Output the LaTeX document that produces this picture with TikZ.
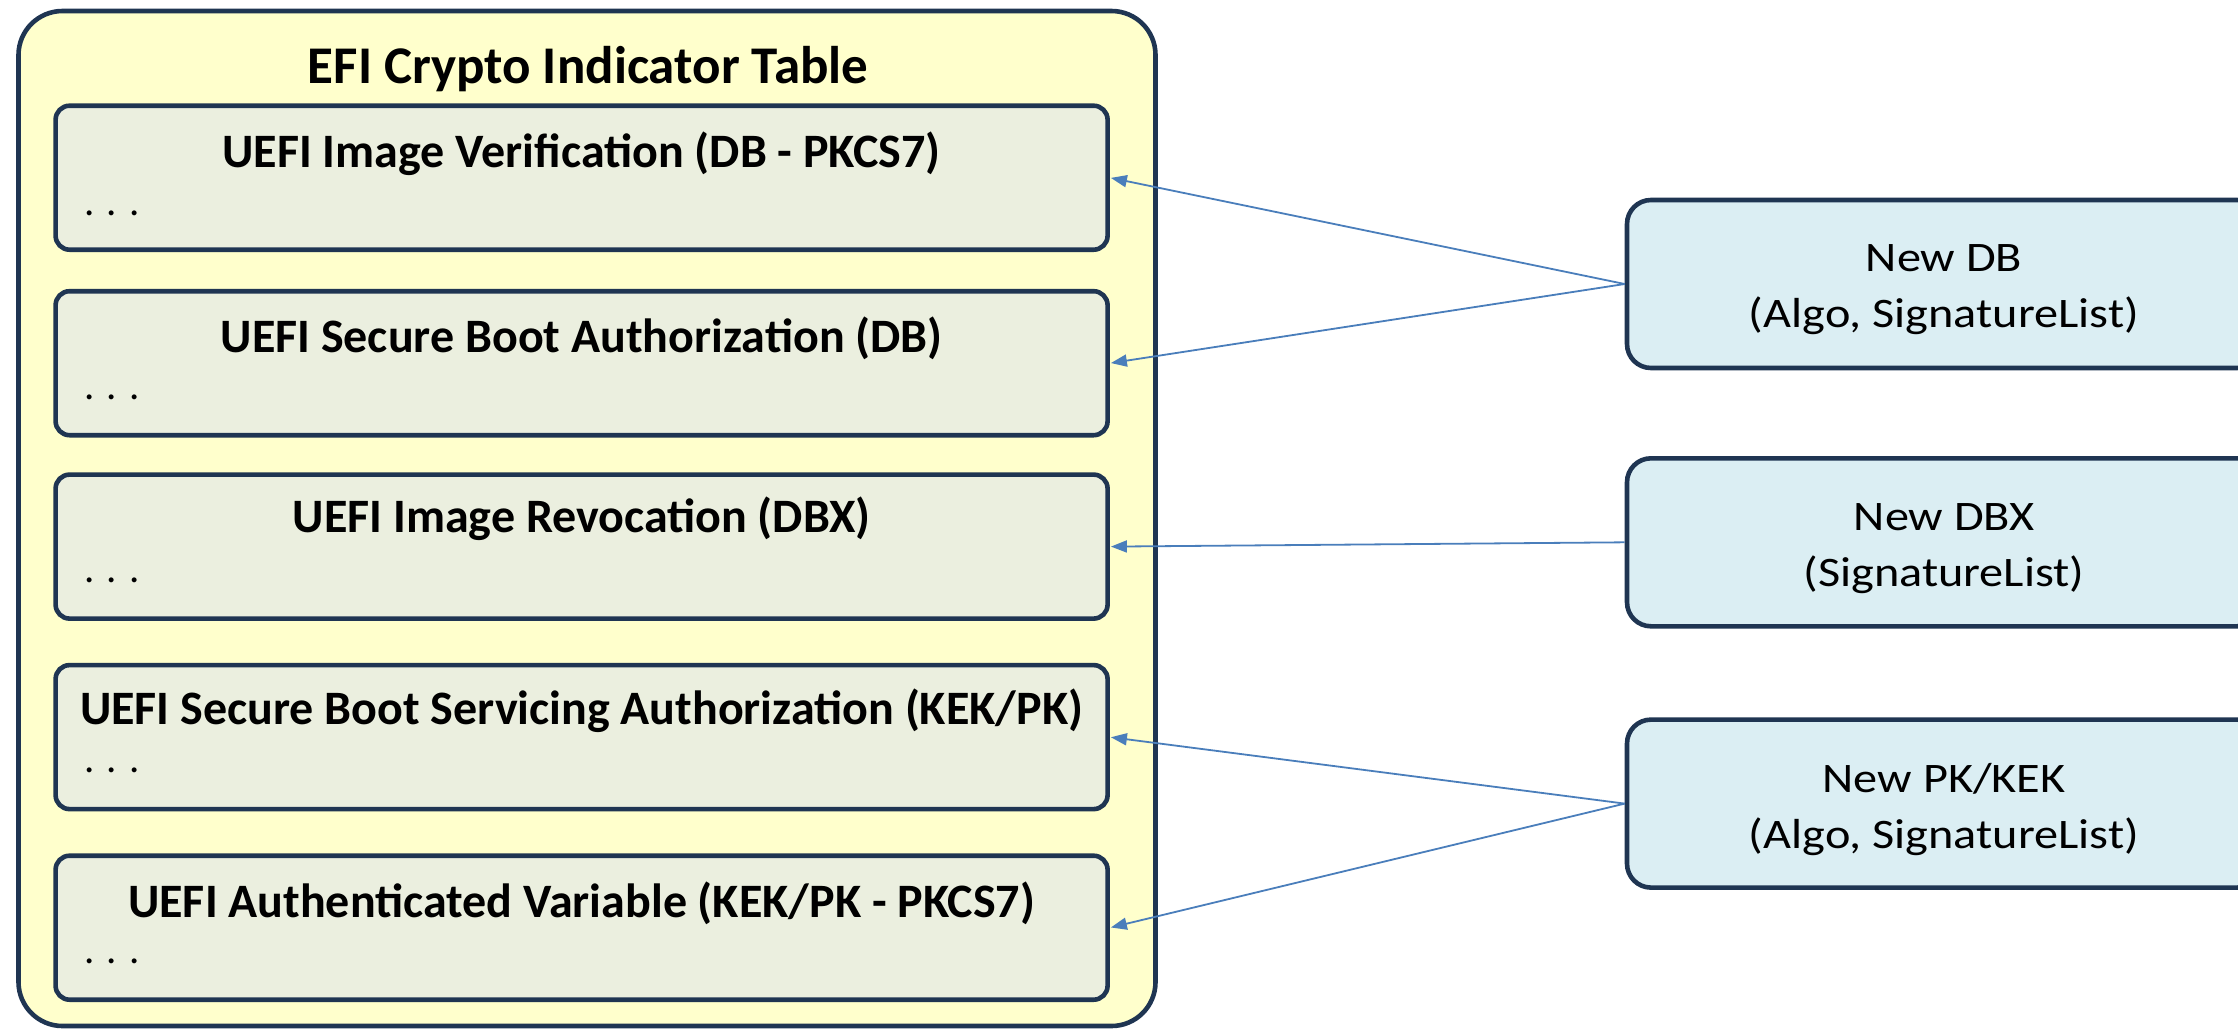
\documentclass[tikz,border=0pt]{standalone}
\usepackage{fontspec}
\setmainfont{Carlito}
\usetikzlibrary{arrows.meta}
\definecolor{navy}{HTML}{1F3552}
\definecolor{tablefill}{HTML}{FFFFCC}
\definecolor{entryfill}{HTML}{EBEFDF}
\definecolor{newfill}{HTML}{DBEEF3}
\definecolor{link}{HTML}{4A7EBB}
\newcommand{\widetext}[1]{\scalebox{1.15}[1]{#1}}
\tikzset{
  table/.style={draw=navy, line width=4.6pt, fill=tablefill, rounded corners=44pt, inner sep=0pt},
  entry/.style={draw=navy, line width=4.6pt, fill=entryfill, rounded corners=14pt, inner sep=0pt,
    minimum width=1052pt, minimum height=144pt},
  newbox/.style={draw=navy, line width=4.6pt, fill=newfill, rounded corners=24pt, inner sep=0pt,
    minimum width=634pt, minimum height=168pt},
  newtext/.style={align=center, inner sep=0pt, font=\fontsize{42}{56}\selectfont},
  entrytitle/.style={font=\fontsize{48}{56}\selectfont\bfseries, inner sep=0pt},
  dots/.style={font=\fontsize{41}{44}\selectfont, inner sep=0pt, anchor=west},
  feed/.style={draw=link, line width=1.8pt, -{Triangle[length=16pt,width=12pt]}, shorten >=1pt}
}
\begin{document}
\begin{tikzpicture}[x=1pt,y=-1pt]
\useasboundingbox (0,0) rectangle (2238,1029);
% outer table
\node[table, minimum width=1137pt, minimum height=1015pt] (tbl) at (587,518.5) {};
\node[font=\fontsize{53}{60}\selectfont\bfseries, inner sep=0pt] (ttl) at (588,69) {EFI Crypto Indicator Table};
% table entries
\node[entry] (e1) at (581.6,177.7) {};
\node[entry] (e2) at (581.6,363.2) {};
\node[entry] (e3) at (581.6,546.6) {};
\node[entry] (e4) at (581.6,737.1) {};
\node[entry] (e5) at (581.6,927.7) {};
\node[entrytitle] (t1) at (581.6,154) {UEFI Image Verification (DB - PKCS7)};
\node[entrytitle] (t2) at (581.6,338) {UEFI Secure Boot Authorization (DB)};
\node[entrytitle] (t3) at (581.6,519) {UEFI Image Revocation (DBX)};
\node[entrytitle] (t4) at (581.6,710.5) {UEFI Secure Boot Servicing Authorization (KEK/PK)};
\node[entrytitle] (t5) at (581.6,903) {UEFI Authenticated Variable (KEK/PK - PKCS7)};
\node[dots] (d1) at (84,213) {. . .};
\node[dots] (d2) at (84,397) {. . .};
\node[dots] (d3) at (84,580) {. . .};
\node[dots] (d4) at (84,770) {. . .};
\node[dots] (d5) at (84,961) {. . .};
% new key sets
\node[newbox] (ndb) at (1944,284) {};
\node[newbox] (ndbx) at (1944,542.3) {};
\node[newbox] (npk) at (1944,803.6) {};
\node[newtext] (ndbt) at ([yshift=-6pt]ndb.center) {\widetext{New DB}\\\widetext{(Algo, SignatureList)}};
\node[newtext] (ndbxt) at ([yshift=-6pt]ndbx.center) {\widetext{New DBX}\\\widetext{(SignatureList)}};
\node[newtext] (npkt) at ([yshift=-6pt]npk.center) {\widetext{New PK/KEK}\\\widetext{(Algo, SignatureList)}};
% updates
\draw[feed] (ndb.west) -- (e1.east);
\draw[feed] (ndb.west) -- (e2.east);
\draw[feed] (ndbx.west) -- (e3.east);
\draw[feed] (npk.west) -- (e4.east);
\draw[feed] (npk.west) -- (e5.east);
\end{tikzpicture}
\end{document}
